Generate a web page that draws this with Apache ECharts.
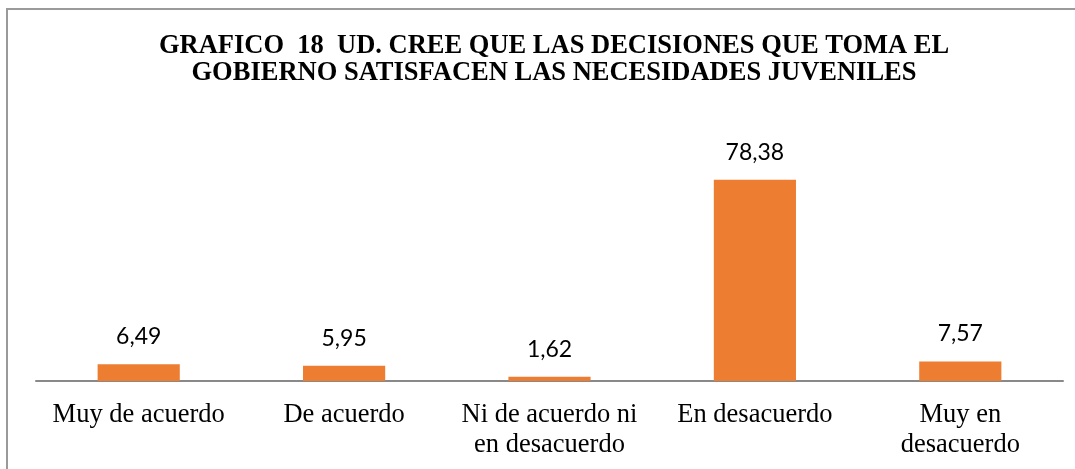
<!DOCTYPE html>
<html>
<head>
<meta charset="utf-8">
<script src="https://cdn.jsdelivr.net/npm/echarts@6/dist/echarts.min.js"></script>
<style>
  html, body { margin: 0; padding: 0; background: #fff; }
  #chart { width: 1075px; height: 469px; }
  /* frame of the original picture, only left and top edges are visible */
  .frame {
    position: absolute; left: 6px; top: 8px; width: 1100px; height: 500px;
    border-left: 2px solid #9a9a9a; border-top: 2px solid #9a9a9a;
    pointer-events: none;
  }
</style>
</head>
<body>
<div id="chart"></div>
<div class="frame"></div>
<script>
const categories = [
  'Muy de acuerdo',
  'De acuerdo',
  'Ni de acuerdo ni\nen desacuerdo',
  'En desacuerdo',
  'Muy en\ndesacuerdo'
]
const values = [6.49, 5.95, 1.62, 78.38, 7.57]
const titleLines = [
  'GRAFICO  18  UD. CREE QUE LAS DECISIONES QUE TOMA EL',
  'GOBIERNO SATISFACEN LAS NECESIDADES JUVENILES'
]

const chart = echarts.init(document.getElementById('chart'))

const option = {
  animation: false,
  title: {
    text: titleLines.join('\n'),
    left: 549,
    textAlign: 'center',
    top: 28,
    textStyle: {
      fontFamily: 'Liberation Serif',
      fontWeight: 'bold',
      fontSize: 26.5,
      lineHeight: 27,
      color: '#000'
    }
  },
  grid: { left: 36, right: 12, top: 150, bottom: 88 },
  xAxis: {
    type: 'category',
    data: categories,
    axisLine: { lineStyle: { color: '#898989', width: 2 } },
    axisTick: { show: false },
    axisLabel: {
      interval: 0,
      margin: 19,
      fontFamily: 'Liberation Serif',
      fontSize: 26.5,
      lineHeight: 30,
      color: '#000'
    }
  },
  yAxis: {
    type: 'value',
    min: 0,
    max: 90,
    show: false,
    splitLine: { show: false }
  },
  series: [
    {
      type: 'bar',
      data: values,
      barCategoryGap: '60%',
      itemStyle: { color: '#ED7D31' },
      label: {
        show: true,
        position: 'top',
        distance: 16,
        fontFamily: 'Lato',
        fontSize: 23,
        color: '#000',
        formatter: (p) => p.value.toFixed(2).replace('.', ',')
      }
    }
  ]
}
chart.setOption(option)
</script>
</body>
</html>
